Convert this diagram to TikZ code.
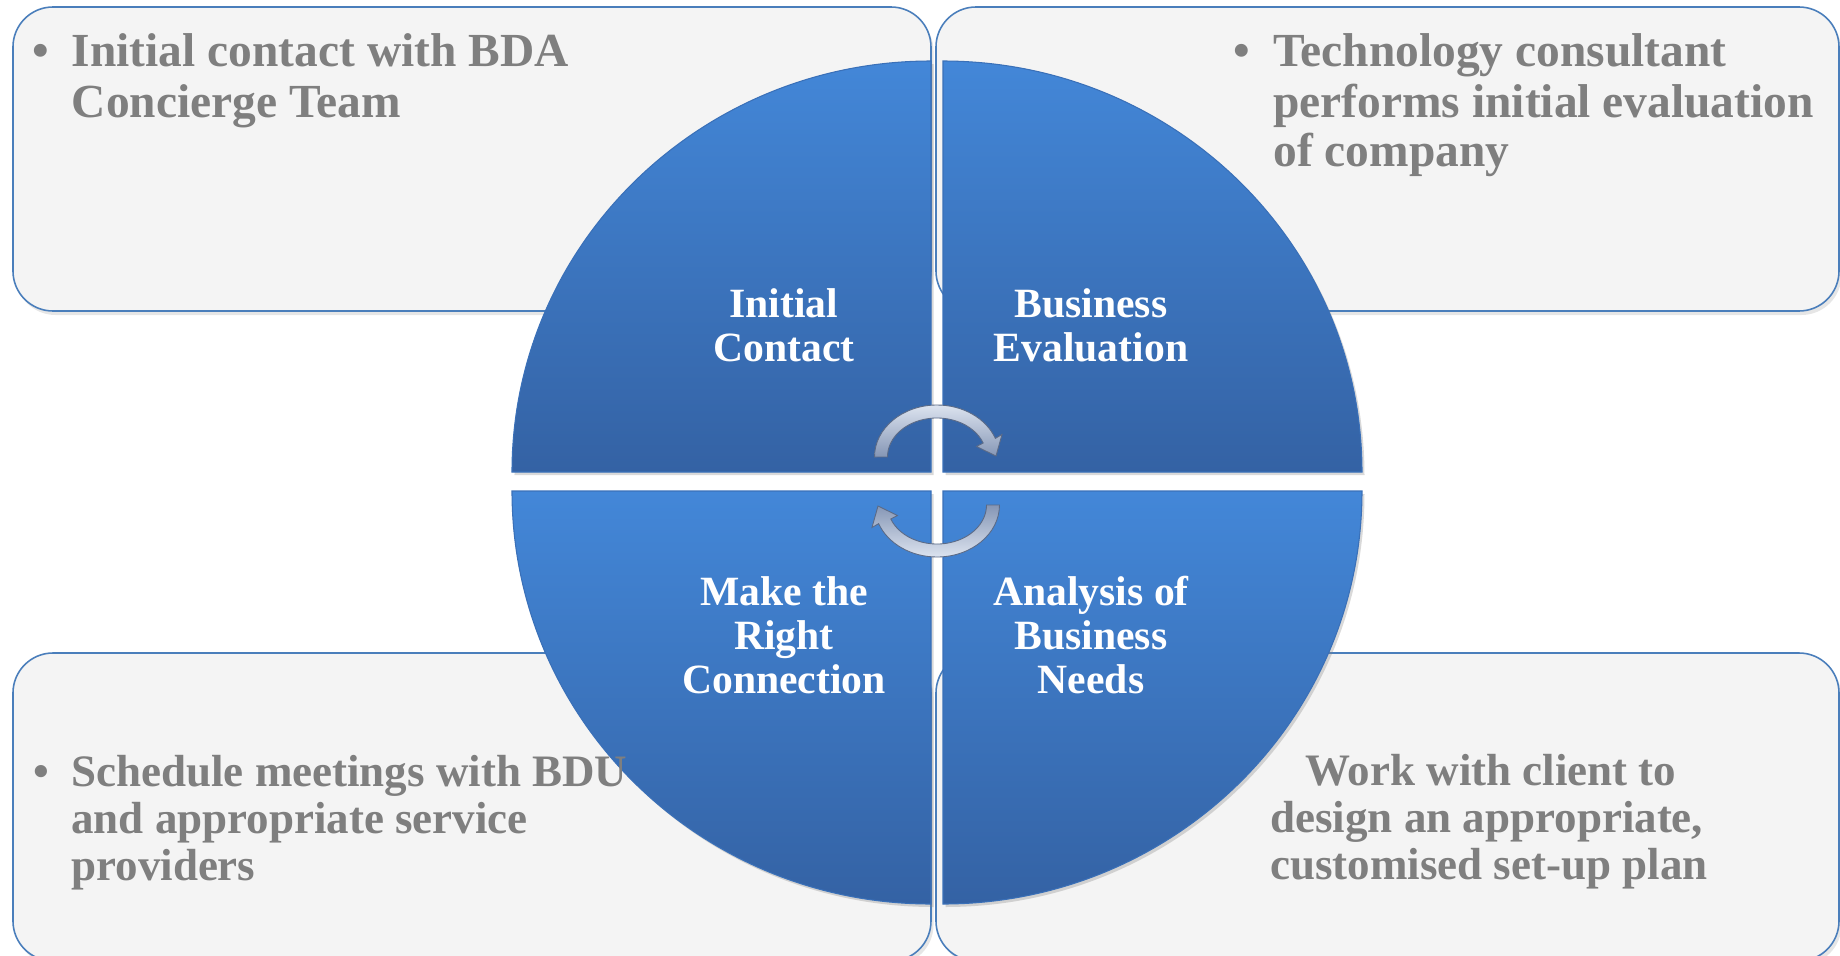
\documentclass[tikz,border=0pt]{standalone}
\usepackage{fontspec}
\setmainfont{Liberation Serif}
\usetikzlibrary{shadows}
\definecolor{boxfill}{HTML}{F4F4F4}
\definecolor{boxline}{HTML}{4A7EBB}
\definecolor{quadlight}{HTML}{4387D8}
\definecolor{quaddark}{HTML}{3462A4}
\definecolor{quadedge}{HTML}{3A70B8}
\definecolor{textgray}{HTML}{7F7F7F}
\definecolor{arrowlight}{HTML}{DCE3EF}
\definecolor{arrowdark}{HTML}{8596B5}
\definecolor{arrowedge}{HTML}{5B6A86}

\begin{document}
\begin{tikzpicture}[
    every node/.style={inner sep=0pt},
    infobox/.style={draw=boxline, line width=0.9pt, fill=boxfill, rounded corners=0.8cm,
        drop shadow={opacity=0.2, shadow xshift=0.05cm, shadow yshift=-0.08cm}},
    quad/.style={top color=quadlight, bottom color=quaddark, draw=quadedge, line width=0.6pt,
        drop shadow={opacity=0.3, shadow xshift=0.05cm, shadow yshift=-0.06cm}},
    toptext/.style={anchor=base west, text=textgray, font=\fontsize{27}{30}\selectfont\bfseries},
    bottext/.style={anchor=base west, text=textgray, font=\fontsize{25.6}{30}\selectfont\bfseries},
    qtext/.style={anchor=base, text=white, font=\fontsize{23.7}{28}\selectfont\bfseries},
    cyclearrow/.style={top color=arrowlight, bottom color=arrowdark, draw=arrowedge, line width=0.5pt}
]
    \useasboundingbox (-18.74,-9.48) rectangle (18.06,9.62);

    % Text boxes
    \draw[infobox] (-18.48,3.4) rectangle (-0.12,9.48);
    \draw[infobox] (-0.02,3.4) rectangle (18.04,9.48);
    \draw[infobox] (-18.48,-9.6) rectangle (-0.12,-3.44);
    \draw[infobox] (-0.02,-9.6) rectangle (18.04,-3.44);

    % Quadrants
    \draw[quad] (-0.12,0.18) -- ++(-8.38,0) arc[start angle=180, end angle=90, x radius=8.38, y radius=8.22] -- cycle;
    \draw[quad] (0.12,0.18) -- ++(0,8.22) arc[start angle=90, end angle=0, x radius=8.38, y radius=8.22] -- cycle;
    \draw[quad] (-0.12,-0.2) -- ++(0,-8.26) arc[start angle=270, end angle=180, x radius=8.38, y radius=8.26] -- cycle;
    \draw[quad] (0.12,-0.2) -- ++(8.38,0) arc[start angle=0, end angle=-90, x radius=8.38, y radius=8.26] -- cycle;

    % Cycle arrows
    \foreach \r in {0,180} {
        \begin{scope}[rotate=\r]
            \draw[cyclearrow, shading angle=\r] (-1.25,0.48) arc[start angle=180, end angle=21, x radius=1.25, y radius=1.04]
                -- (1.30,0.93) -- (1.18,0.50) -- (0.79,0.69) -- (0.924,0.76)
                arc[start angle=21, end angle=180, x radius=0.99, y radius=0.78] -- cycle;
        \end{scope}
    }

    % Quadrant labels
    \node[qtext] (ic1) at (-3.06,3.28) {Initial};
    \node[qtext] (ic2) at (-3.06,2.40) {Contact};
    \node[qtext] (be1) at (3.08,3.28) {Business};
    \node[qtext] (be2) at (3.08,2.40) {Evaluation};
    \node[qtext] (rc1) at (-3.06,-2.48) {Make the};
    \node[qtext] (rc2) at (-3.06,-3.36) {Right};
    \node[qtext] (rc3) at (-3.06,-4.24) {Connection};
    \node[qtext] (an1) at (3.08,-2.48) {Analysis of};
    \node[qtext] (an2) at (3.08,-3.36) {Business};
    \node[qtext] (an3) at (3.08,-4.24) {Needs};

    % Top left box
    \node[toptext, anchor=base] (tlb) at (-17.92,8.28) {•};
    \node[toptext] (tl1) at (-17.31,8.28) {Initial contact with BDA};
    \node[toptext] (tl2) at (-17.31,7.28) {Concierge Team};

    % Top right box
    \node[toptext, anchor=base] (trb) at (6.1,8.28) {•};
    \node[toptext] (tr1) at (6.72,8.28) {Technology consultant};
    \node[toptext] (tr2) at (6.72,7.28) {performs initial evaluation};
    \node[toptext] (tr3) at (6.72,6.29) {of company};

    % Bottom left box
    \node[bottext, anchor=base] (blb) at (-17.92,-6.10) {•};
    \node[bottext] (bl1) at (-17.32,-6.10) {Schedule meetings with BDU};
    \node[bottext] (bl2) at (-17.32,-7.04) {and appropriate service};
    \node[bottext] (bl3) at (-17.32,-7.98) {providers};

    % Bottom right box
    \node[bottext] (br1) at (7.36,-6.08) {Work with client to};
    \node[bottext] (br2) at (6.66,-7.02) {design an appropriate,};
    \node[bottext] (br3) at (6.66,-7.96) {customised set-up plan};
\end{tikzpicture}
\end{document}
